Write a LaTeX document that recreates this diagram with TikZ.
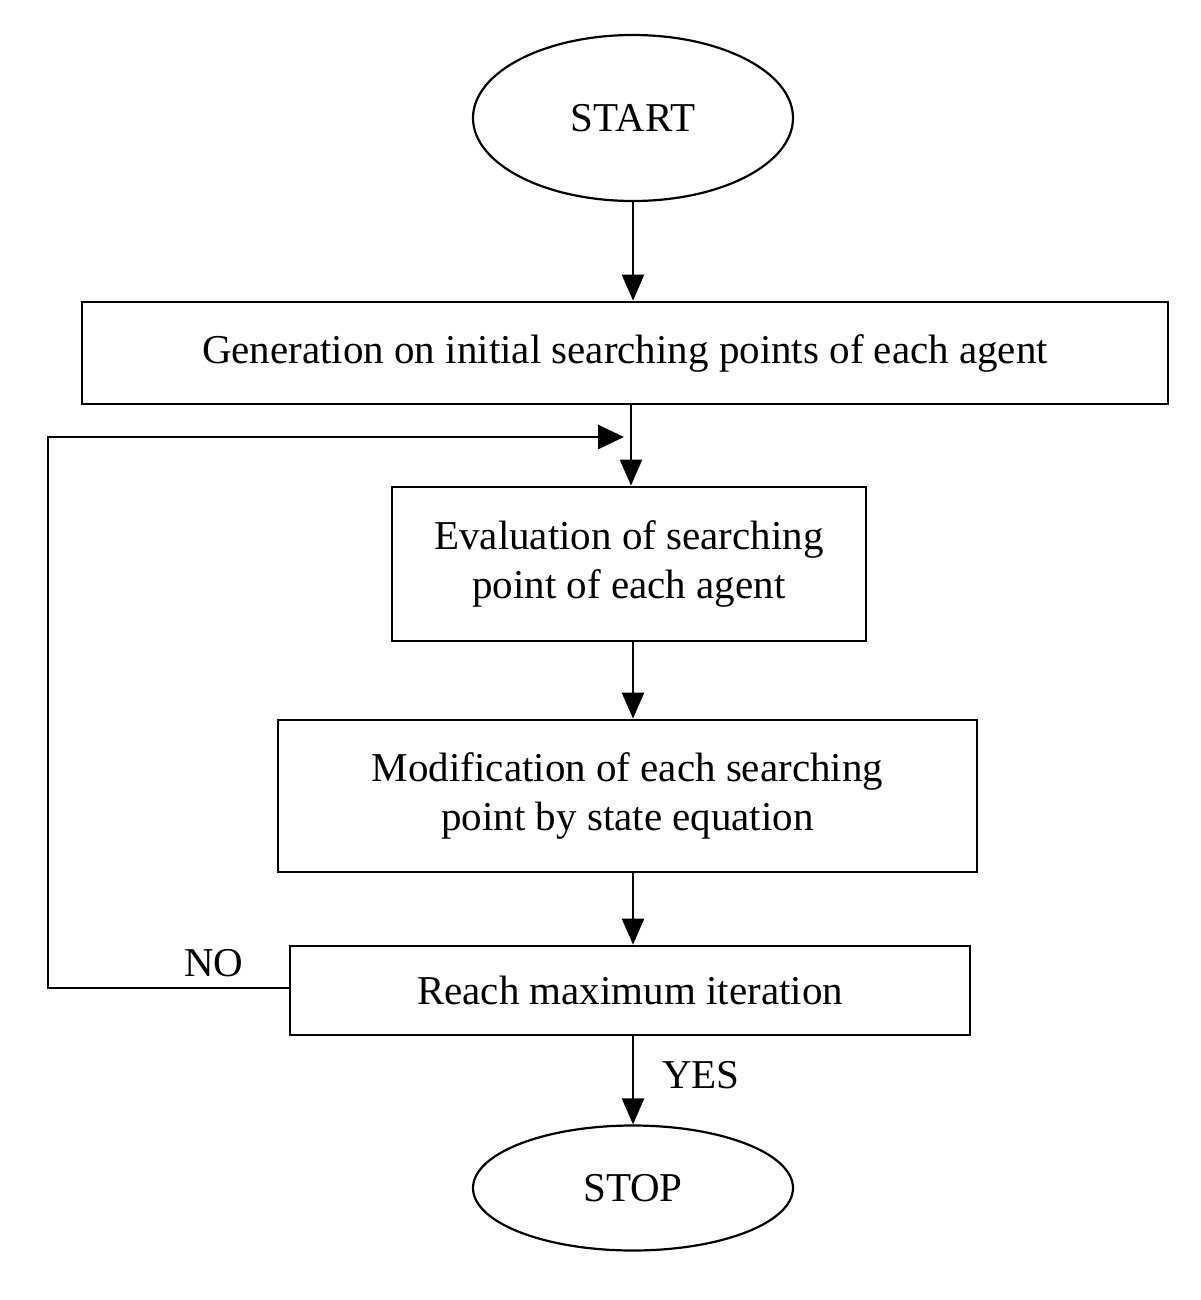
\documentclass[tikz,border=0pt]{standalone}
\usepackage{fontspec}
\setmainfont{Liberation Serif}
\usetikzlibrary{shapes.geometric,arrows.meta}
\begin{document}
\begin{tikzpicture}[x=1pt,y=-1pt,
  every node/.style={font=\fontsize{41}{49}\selectfont},
  box/.style={draw,line width=2.8pt,inner sep=0pt,align=center},
  term/.style={draw,ellipse,line width=2.2pt,inner sep=0pt},
  flow/.style={line width=2.4pt,-{Triangle[length=26pt,width=22pt]}},
  loopline/.style={line width=2.6pt}]
\useasboundingbox (0,0) rectangle (1200,1300);
\node[term,minimum width=320pt,minimum height=166pt] (start) at (633,118) {START};
\node[box,minimum width=1086pt,minimum height=102pt] (gen) at (625,353) {Generation on initial searching points of each agent};
\node[box,minimum width=474pt,minimum height=154pt] (eval) at (629,564) {Evaluation of searching\\point of each agent};
\node[box,minimum width=699pt,minimum height=152pt] (mod) at (627.5,796) {Modification of each searching\\point by state equation};
\node[box,minimum width=680pt,minimum height=89pt] (reach) at (630,990.5) {Reach maximum iteration};
\node[term,minimum width=320pt,minimum height=125pt] (stop) at (633,1188) {STOP};
\coordinate (lt) at (48,437);
\coordinate (lb) at (48,988);
\coordinate (tip) at (624,437);
\draw[flow] (start.south) -- (start.south |- gen.north);
\draw[flow] (gen.south -| 631,0) -- (631,0 |- eval.north);
\draw[flow] (eval.south -| 633,0) -- (633,0 |- mod.north);
\draw[flow] (mod.south -| 633,0) -- (633,0 |- reach.north);
\draw[flow] (reach.south -| 633,0) -- (633,0 |- stop.north);
\draw[loopline,-{Triangle[length=26pt,width=24pt]}] (reach.west |- lb) -- (lb) -- (lt) -- (tip);
\node (no) at (214,963) {NO};
\node (yes) at (701,1075) {YES};
\end{tikzpicture}
\end{document}
